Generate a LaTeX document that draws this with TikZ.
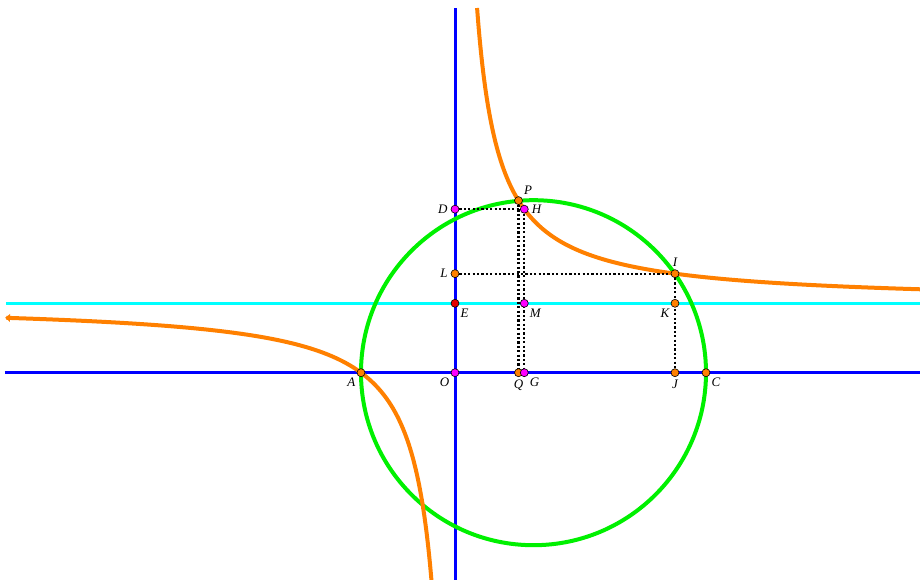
\documentclass[tikz,border=0pt]{standalone}
\usepackage{fontspec}
\setmainfont{Liberation Serif}
\usetikzlibrary{positioning,calc,arrows.meta}
\definecolor{hypcol}{RGB}{255,128,0}
\definecolor{circcol}{RGB}{0,240,0}
\definecolor{axcol}{RGB}{0,0,255}
\definecolor{asycol}{RGB}{0,255,255}
\definecolor{ptmag}{RGB}{255,0,255}
\definecolor{ptred}{RGB}{230,0,0}
\tikzset{>=latex}
\tikzset{
  pt/.style={circle, draw=black, line width=0.6pt, inner sep=0pt, minimum size=8pt, fill=#1},
  lbl/.style={font=\fontsize{13}{15}\selectfont\itshape, inner sep=1pt, label distance=2pt},
  guide/.style={line width=2.2pt, dash pattern=on 2.2pt off 2.2pt},
  axisline/.style={axcol, line width=3pt},
  hyp/.style={hypcol, line width=4pt},
}

\begin{document}
\begin{tikzpicture}[x=1pt, y=1pt]
          \useasboundingbox (-455,-207.3) rectangle (465,372.7);
          % points of the figure
          \coordinate (O) at (0,0);
          \coordinate (A) at (-94,0);
          \coordinate (C) at (251,0);
          \coordinate (P) at (63.5,172.1);
          \coordinate (H) at (69.3,163.5);
          \coordinate (I) at (220,99.04);
          \coordinate (D) at (0,163.5);
          \coordinate (L) at (0,99.04);
          \coordinate (E) at (0,69.4);
          \coordinate (M) at (69.3,69.4);
          \coordinate (K) at (220,69.4);
          \coordinate (Q) at (63.5,0);
          \coordinate (G) at (69.3,0);
          \coordinate (J) at (220,0);
          \coordinate (ytop) at (0,364.7);
          \coordinate (ybot) at (0,-207.3);
          \coordinate (xleft) at (-450,0);
          \coordinate (xright) at (465,0);
          \coordinate (aleft) at (-449,69.4);
          \coordinate (aright) at (465,69.4);
          % axes and asymptote
          \draw[axisline] (ybot) -- (ytop);
          \draw[axisline] (xleft) -- (xright);
          \draw[asycol, line width=3.2pt] (aleft) -- (aright);
          % circle
          \draw[circcol, line width=4pt] (78.5,0) circle (172.5);
          % hyperbola
          \draw[hyp, domain=22.08:465, samples=300, smooth, variable=\x] plot ({\x}, {69.4+6520/\x});
          \draw[hyp, {Latex[length=5pt,width=9pt]}-, domain=-450:-23.56, samples=300, smooth, variable=\x] plot ({\x}, {69.4+6520/\x});
          % projections
          \draw[guide] (D) -- (H);
          \draw[guide] (H) -- (G);
          \draw[guide] (P) -- (Q);
          \draw[guide] (L) -- (I);
          \draw[guide] (I) -- (J);
          % marked points
          \foreach \p/\c/\where in {A/hypcol/below left, C/hypcol/below right, O/ptmag/below left,
              Q/hypcol/below, G/ptmag/below right, J/hypcol/below, D/ptmag/left, L/hypcol/left,
              E/ptred/below right, M/ptmag/below right, K/hypcol/below left, H/ptmag/right,
              I/hypcol/above, P/hypcol/above right}
            \node[pt=\c, label={[lbl]\where:\p}] (\p-pt) at (\p) {};
        \end{tikzpicture}
\end{document}
